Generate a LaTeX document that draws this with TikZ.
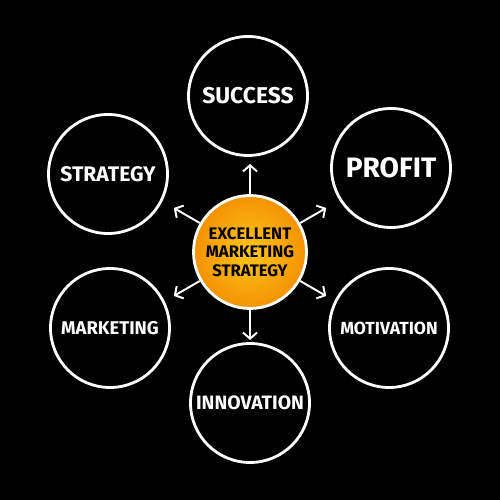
\documentclass[tikz,border=0pt]{standalone}
\usepackage{fontspec}
\setmainfont{Fira Sans}
\usetikzlibrary{arrows.meta}

\definecolor{hubinner}{HTML}{FFC61E}
\definecolor{hubouter}{HTML}{F39200}

\tikzset{
	ring/.style={circle, draw=white, line width=1.6pt, minimum size=2.38cm, inner sep=0pt, text=white},
	hubring/.style={circle, draw=white, line width=1.6pt, minimum size=2.26cm, inner sep=0pt,
		inner color=hubinner, outer color=hubouter, align=center,
		font=\fontsize{9.5}{10.5}\selectfont\bfseries},
	spoke/.style={white, line width=1.1pt, -{Straight Barb[length=3.5pt,width=8pt]}}
}

\begin{document}
\begin{tikzpicture}
	\fill[black] (0,0) rectangle (10,10);

	\node[hubring] (hub) at (5,4.96) {EXCELLENT\\MARKETING\\STRATEGY};

	\foreach \name/\x/\y/\sz/\txt in {success/4.96/8.08/13/SUCCESS,
			profit/7.82/6.64/16/PROFIT,
			motivation/7.78/3.44/10/MOTIVATION,
			innovation/5.0/1.94/11/INNOVATION,
			marketing/2.2/3.44/10.5/MARKETING,
			strategy/2.16/6.52/12/STRATEGY}
	{
		\node[ring, font=\fontsize{\sz}{\sz}\selectfont\bfseries] (\name) at (\x,\y) {\txt};
	}

	% short arrows out of the hub
	\foreach \a in {90,30,150,210,330,270}
	{
		\path (hub) ++(\a:1.76) coordinate (tip\a);
		\draw[spoke] (hub.\a) -- (tip\a);
	}
\end{tikzpicture}
\end{document}
